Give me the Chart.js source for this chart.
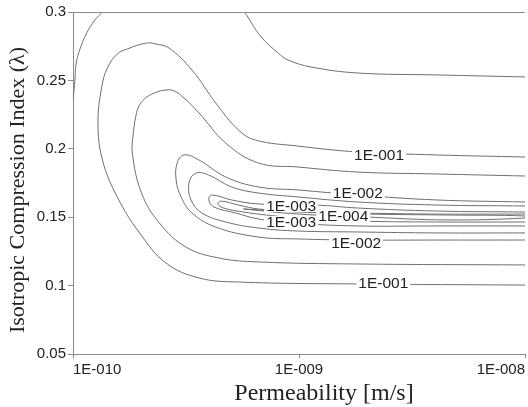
<!DOCTYPE html>
<html>
<head>
<meta charset="utf-8">
<script src="https://cdn.jsdelivr.net/npm/chart.js@4.4.1/dist/chart.umd.min.js"></script>
<style>
  html, body { margin: 0; padding: 0; background: #fff; overflow: hidden; }
  #wrap { width: 528px; height: 407px; position: relative; }
</style>
</head>
<body>
<div id="wrap"><canvas id="contour-chart"></canvas></div>
<script>
// Error contours: permeability vs isotropic compression index

const xTicks = [1e-10, 1e-9, 1e-8];
const xTickLabels = ['1E-010', '1E-009', '1E-008'];
const yTicks = [0.05, 0.1, 0.15, 0.2, 0.25, 0.3];
const yTickLabels = ['0.05', '0.1', '0.15', '0.2', '0.25', '0.3'];

// contours as [permeability, lambda] pairs
const contourTopLeft = [
    [1.35e-10, 0.300], [1.25e-10, 0.2942], [1.15e-10, 0.2847], [1.07e-10, 0.2722],
    [1.03e-10, 0.2613], [1.02e-10, 0.2503], [1.0e-10, 0.2357]
];
const contourTopRight = [
    [5.75e-10, 0.300], [6.81e-10, 0.2817], [8.09e-10, 0.2700], [8.95e-10, 0.2649],
    [1.13e-9, 0.2598], [1.82e-9, 0.2554], [4.07e-9, 0.2540], [1.0e-8, 0.2525]
];
const contour1e1 = [
    [1e-8, 0.1940], [4.07e-9, 0.1955], [1.82e-9, 0.1977], [9.9e-10, 0.2020],
    [6.41e-10, 0.2064], [5.40e-10, 0.2137], [4.28e-10, 0.2335], [3.36e-10, 0.2576],
    [2.66e-10, 0.2737], [2.33e-10, 0.2766], [2.11e-10, 0.2773], [1.74e-10, 0.2730],
    [1.57e-10, 0.2693], [1.42e-10, 0.2591], [1.34e-10, 0.2452],
    [1.29e-10, 0.2189], [1.35e-10, 0.1918], [1.57e-10, 0.1648], [1.97e-10, 0.1385],
    [2.58e-10, 0.1165], [3.61e-10, 0.1056], [5.40e-10, 0.1026], [1.82e-9, 0.1012],
    [1e-8, 0.1004]
];
const contourMid = [
    [1e-8, 0.1801], [4.07e-9, 0.1816], [1.82e-9, 0.1830], [9.9e-10, 0.1867],
    [6.61e-10, 0.1896], [4.74e-10, 0.2042], [3.61e-10, 0.2262], [3.10e-10, 0.2371],
    [2.80e-10, 0.2423], [2.58e-10, 0.2430], [2.29e-10, 0.2408], [2.07e-10, 0.2364],
    [1.95e-10, 0.2306], [1.89e-10, 0.2225], [1.85e-10, 0.2116], [1.83e-10, 0.1969],
    [2.01e-10, 0.1677], [2.41e-10, 0.1458], [3.16e-10, 0.1282], [4.41e-10, 0.1202],
    [6.61e-10, 0.1173], [1.82e-9, 0.1158], [1e-8, 0.1151]
];
const contour1e2 = [
    [1e-8, 0.1611], [4.07e-9, 0.1626], [1.82e-9, 0.1662], [9.9e-10, 0.1699],
    [6.61e-10, 0.1721], [4.74e-10, 0.1794], [3.61e-10, 0.1918], [3.10e-10, 0.1955],
    [2.89e-10, 0.1896], [2.86e-10, 0.1772], [3.01e-10, 0.1648], [3.36e-10, 0.1531],
    [4.28e-10, 0.1428], [6.61e-10, 0.1355], [9.9e-10, 0.1341], [1.82e-9, 0.1333],
    [4.07e-9, 0.1333], [1e-8, 0.1333]
];
const contourInnerA = [
    [1e-8, 0.1582], [4.07e-9, 0.1589], [1.82e-9, 0.1611], [9.9e-10, 0.1648],
    [6.61e-10, 0.1677], [5.03e-10, 0.1721], [3.99e-10, 0.1808], [3.50e-10, 0.1823],
    [3.26e-10, 0.1750], [3.33e-10, 0.1626], [3.72e-10, 0.1531], [4.74e-10, 0.1465],
    [6.61e-10, 0.1421], [9.9e-10, 0.1399], [1.82e-9, 0.1392], [4.07e-9, 0.1385],
    [1e-8, 0.1385]
];
const contour1e3 = [
    [1e-8, 0.1538], [4.07e-9, 0.1545], [1.82e-9, 0.1567], [1.19e-9, 0.1589],
    [6.61e-10, 0.1597], [5.03e-10, 0.1626], [4.11e-10, 0.1662], [3.99e-10, 0.1626],
    [4.20e-10, 0.1575], [5.24e-10, 0.1531], [6.61e-10, 0.1487], [9.23e-10, 0.1458],
    [1.82e-9, 0.1436], [4.07e-9, 0.1436], [1e-8, 0.1436]
];
const contourInnerB = [
    [1e-8, 0.1523], [4.07e-9, 0.1523], [1.82e-9, 0.1531], [9.9e-10, 0.1545],
    [6.61e-10, 0.1560], [5.40e-10, 0.1589], [4.50e-10, 0.1618], [4.37e-10, 0.1597],
    [4.64e-10, 0.1567], [5.68e-10, 0.1538], [7.17e-10, 0.1516], [9.9e-10, 0.1494],
    [1.82e-9, 0.1472], [4.07e-9, 0.1465], [1e-8, 0.1465]
];
const contour1e4 = [
    [5.68e-10, 0.1560], [9.9e-10, 0.1538], [2.01e-9, 0.1523], [4.50e-9, 0.1516],
    [1e-8, 0.1509], [1e-8, 0.1494], [4.50e-9, 0.1480], [2.01e-9, 0.1501],
    [9.9e-10, 0.1523], [5.68e-10, 0.1560]
];

const contourLabels = [
    { text: '1E-001', k: 2.26e-9, lambda: 0.1955 },
    { text: '1E-001', k: 2.36e-9, lambda: 0.1019 },
    { text: '1E-002', k: 1.82e-9, lambda: 0.1677 },
    { text: '1E-002', k: 1.79e-9, lambda: 0.1311 },
    { text: '1E-003', k: 9.23e-10, lambda: 0.1582 },
    { text: '1E-003', k: 9.23e-10, lambda: 0.1465 },
    { text: '1E-004', k: 1.57e-9, lambda: 0.1509 }
];

const contours = [contourTopLeft, contourTopRight, contour1e1, contourMid, contour1e2,
    contourInnerA, contour1e3, contourInnerB, contour1e4];

const lineColor = '#6f6f6f';
const axisColor = '#8a8a8a';

// labels sit on the lines with a white gap behind them
const labelPlugin = {
    id: 'contourLabels',
    afterDatasetsDraw(chart) {
        const ctx = chart.ctx;
        const xs = chart.scales.x, ys = chart.scales.y;
        ctx.save();
        ctx.font = '15.5px "Liberation Sans"';
        ctx.textAlign = 'center';
        ctx.textBaseline = 'middle';
        contourLabels.forEach(l => {
            const px = xs.getPixelForValue(l.k);
            const py = ys.getPixelForValue(l.lambda);
            const w = ctx.measureText(l.text).width;
            ctx.fillStyle = '#fff';
            ctx.fillRect(px - w / 2 - 2, py - 6, w + 4, 12);
            ctx.fillStyle = '#222';
            ctx.fillText(l.text, px, py + 1);
        });
        ctx.restore();
    }
};

// top frame line and axis titles
const framePlugin = {
    id: 'frame',
    afterDraw(chart) {
        const ctx = chart.ctx;
        const area = chart.chartArea;
        ctx.save();
        ctx.strokeStyle = axisColor;
        ctx.lineWidth = 1;
        ctx.beginPath();
        const top = Math.round(area.top) + 0.5;
        ctx.moveTo(area.left, top);
        ctx.lineTo(area.right, top);
        ctx.stroke();

        ctx.fillStyle = '#222';
        ctx.font = '24px "Liberation Serif"';
        ctx.textAlign = 'center';
        ctx.textBaseline = 'alphabetic';
        ctx.fillText('Permeability [m/s]', 324, 400);

        ctx.font = '22px "Liberation Serif"';
        ctx.translate(18, 190);
        ctx.rotate(-Math.PI / 2);
        ctx.textBaseline = 'middle';
        ctx.fillText('Isotropic Compression Index (\u03bb)', 0, 0);
        ctx.restore();
    }
};

document.addEventListener('DOMContentLoaded', function() {
    const ctx = document.getElementById('contour-chart').getContext('2d');
    new Chart(ctx, {
        type: 'scatter',
        data: {
            datasets: contours.map(c => ({
                data: c.map(p => ({ x: p[0], y: p[1] })),
                showLine: true,
                borderColor: lineColor,
                borderWidth: 1,
                pointRadius: 0,
                tension: 0.4,
                fill: false
            }))
        },
        options: {
            responsive: true,
            maintainAspectRatio: false,
            animation: false,
            layout: { padding: { top: 12, right: 0, left: 0, bottom: 0 } },
            plugins: { legend: { display: false }, tooltip: { enabled: false } },
            scales: {
                x: {
                    type: 'logarithmic',
                    min: 1e-10,
                    max: 1e-8,
                    afterBuildTicks: s => { s.ticks = xTicks.map(v => ({ value: v })); },
                    afterFit: s => { s.height = 53; },
                    ticks: {
                        align: 'inner',
                        autoSkip: false,
                        maxRotation: 0,
                        padding: 3,
                        color: '#222',
                        font: { family: 'Liberation Sans', size: 15 },
                        callback: (v, i) => xTickLabels[i]
                    },
                    grid: { drawOnChartArea: false, drawTicks: true, tickLength: 4, color: axisColor },
                    border: { color: axisColor }
                },
                y: {
                    type: 'linear',
                    min: 0.05,
                    max: 0.3,
                    afterBuildTicks: s => { s.ticks = yTicks.map(v => ({ value: v })); },
                    afterFit: s => { s.width = 73; },
                    ticks: {
                        autoSkip: false,
                        padding: 2,
                        color: '#222',
                        font: { family: 'Liberation Sans', size: 15 },
                        callback: (v, i) => yTickLabels[i]
                    },
                    grid: { drawOnChartArea: false, drawTicks: true, tickLength: 5, color: axisColor },
                    border: { color: axisColor }
                }
            }
        },
        plugins: [labelPlugin, framePlugin]
    });
});
</script>
</body>
</html>
